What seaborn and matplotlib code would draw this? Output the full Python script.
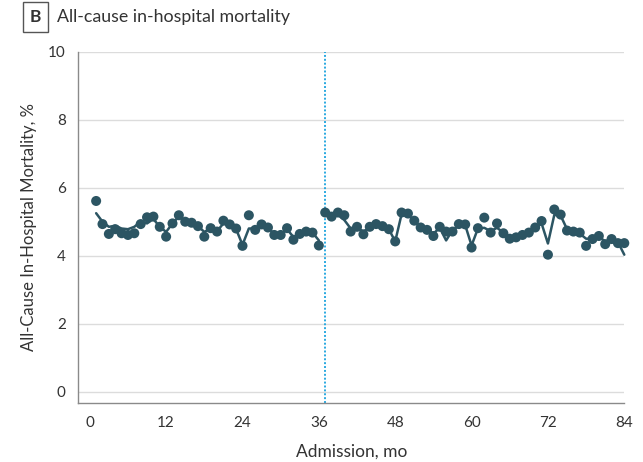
import numpy as np
import pandas as pd
import matplotlib
matplotlib.use("Agg")
import matplotlib.pyplot as plt
import seaborn as sns

# observed monthly mortality, %
months = list(range(1, 85))
observed = [
    5.61, 4.93, 4.64, 4.78, 4.66, 4.61, 4.66, 4.93, 5.13, 5.15, 4.85, 4.56,
    4.95, 5.19, 5.00, 4.97, 4.87, 4.56, 4.81, 4.71, 5.03, 4.92, 4.80, 4.29,
    5.19, 4.76, 4.92, 4.83, 4.61, 4.61, 4.81, 4.47, 4.64, 4.71, 4.68, 4.30,
    5.27, 5.15, 5.27, 5.19, 4.71, 4.85, 4.63, 4.85, 4.93, 4.87, 4.78, 4.42,
    5.27, 5.24, 5.03, 4.83, 4.76, 4.58, 4.85, 4.71, 4.71, 4.93, 4.92, 4.24,
    4.81, 5.12, 4.68, 4.95, 4.66, 4.50, 4.54, 4.61, 4.68, 4.83, 5.02, 4.03,
    5.36, 5.21, 4.74, 4.71, 4.68, 4.29, 4.49, 4.58, 4.34, 4.49, 4.37, 4.37,
]
# fitted values from the model
fitted = [
    5.25, 5.00, 4.85, 4.88, 4.80, 4.78, 4.85, 5.00, 4.95, 5.08, 4.85, 4.70,
    4.95, 5.15, 5.00, 4.97, 4.87, 4.70, 4.80, 4.72, 4.95, 4.90, 4.78, 4.32,
    4.80, 4.80, 4.88, 4.80, 4.66, 4.62, 4.78, 4.55, 4.65, 4.70, 4.68, 4.45,
    5.22, 5.18, 5.20, 5.05, 4.80, 4.85, 4.70, 4.85, 4.90, 4.87, 4.78, 4.42,
    5.22, 5.20, 5.03, 4.85, 4.76, 4.65, 4.82, 4.45, 4.75, 4.88, 4.90, 4.30,
    4.80, 4.82, 4.72, 4.82, 4.68, 4.55, 4.56, 4.60, 4.67, 4.80, 4.95, 4.36,
    5.20, 5.18, 4.78, 4.72, 4.65, 4.50, 4.50, 4.56, 4.42, 4.48, 4.40, 4.03,
]
break_month = 37
x_ticks = [0, 12, 24, 36, 48, 60, 72, 84]
y_ticks = [0, 2, 4, 6, 8, 10]

df = pd.DataFrame({"month": months, "observed": observed, "fitted": fitted})
df["period"] = np.where(df["month"] < break_month, "pre", "post")

sns.set_style("white")
plt.rcParams["font.family"] = ["Lato", "DejaVu Sans"]

dark = "#2C5563"
fig = plt.figure(figsize=(6.43, 4.62), dpi=100)
ax = fig.add_axes([0.1218, 0.1271, 0.8491, 0.761])

for per in ["pre", "post"]:
    sub = df[df["period"] == per]
    sns.lineplot(data=sub, x="month", y="fitted", color=dark, linewidth=1.8,
                 ax=ax, zorder=3, clip_on=False)
sns.scatterplot(data=df, x="month", y="observed", color=dark, s=52,
                edgecolor="none", ax=ax, zorder=4, clip_on=False)

ax.axvline(break_month, color="#2BA9E0", linestyle=(0, (1, 1)), linewidth=1.4,
           zorder=2)

ax.set_xlim(-1.8, 84)
ax.set_ylim(-0.34, 10)
ax.set_xticks(x_ticks)
ax.set_yticks(y_ticks)
ax.yaxis.grid(True, color="#DCDCDC", linewidth=1.0)
ax.set_axisbelow(True)
for s in ["top", "right"]:
    ax.spines[s].set_visible(False)
for s in ["left", "bottom"]:
    ax.spines[s].set_color("#8A8A8A")
    ax.spines[s].set_linewidth(1.0)
ax.tick_params(axis="both", direction="out", length=5, width=1.0,
               color="#8A8A8A", labelsize=11, labelcolor="#333333", pad=4)

ax.set_xlabel("Admission, mo", fontsize=12.5, color="#333333", labelpad=10)
ax.set_ylabel("All-Cause In-Hospital Mortality, %", fontsize=12,
              color="#333333", labelpad=8)

fig.text(0.0552, 0.963, "B", fontsize=12.5, fontweight="bold", color="#333333",
         ha="center", va="center",
         bbox=dict(boxstyle="square,pad=0.38", facecolor="white",
                   edgecolor="#555555", linewidth=1.0))
fig.text(0.089, 0.963, "All-cause in-hospital mortality", fontsize=12.8,
         color="#333333", ha="left", va="center")

fig.savefig("out.png", dpi=100)
